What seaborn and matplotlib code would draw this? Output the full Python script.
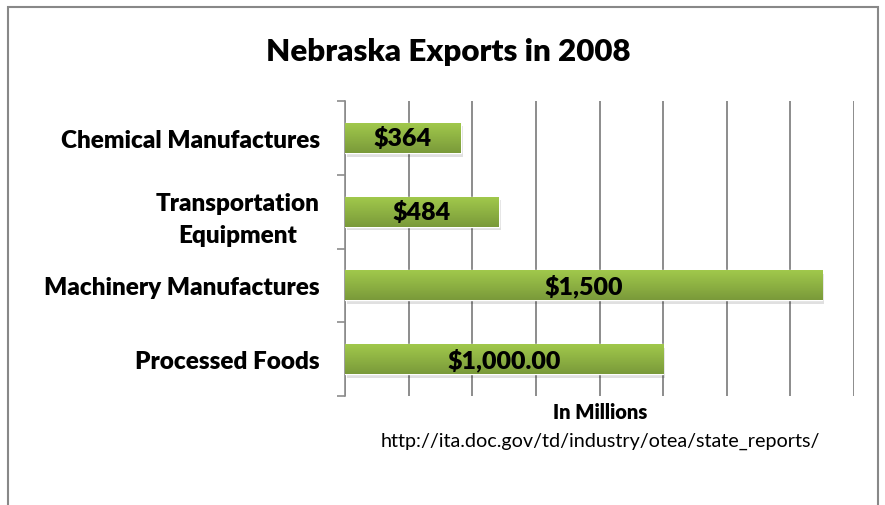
import matplotlib
matplotlib.use("Agg")
import matplotlib.pyplot as plt
import seaborn as sns
import numpy as np
import pandas as pd
from matplotlib.colors import LinearSegmentedColormap
from matplotlib.patches import Rectangle

# data
categories = ["Chemical Manufactures", "Transportation\nEquipment",
              "Machinery Manufactures", "Processed Foods"]
values = [364, 484, 1500, 1000]
value_labels = ["$364", "$484", "$1,500", "$1,000.00"]

df = pd.DataFrame({"category": categories, "value": values})

sns.set_theme(style="white")
plt.rcParams['font.family'] = ['Lato', 'DejaVu Sans']
plt.rcParams['text.color'] = 'black'
plt.rcParams['ytick.labelcolor'] = 'black'

fig = plt.figure(figsize=(8.85, 5.06), dpi=100)
ax = fig.add_axes([345 / 885, 1 - 397 / 506, (854 - 345) / 885, (397 - 102) / 506])

sns.barplot(data=df, x="value", y="category", orient="h", ax=ax,
            color="#8DB545", width=0.41, zorder=3)

# gradient fill + shadow for each bar
green = LinearSegmentedColormap.from_list("g", ["#A2CA4C", "#7A9A3A"])
grad = np.linspace(0, 1, 100).reshape(-1, 1)
for p in list(ax.patches):
    x0, y0 = p.get_x(), p.get_y()
    w, h = p.get_width(), p.get_height()
    shadow = Rectangle((x0 + 6, y0 + 0.05), w, h, color="#000000",
                       alpha=0.12, zorder=2, lw=0)
    ax.add_patch(shadow)
    im = ax.imshow(grad, cmap=green, aspect="auto",
                   extent=(x0, x0 + w, y0 + h, y0), zorder=3.5)
    im.set_clip_path(p)

for i, lab in enumerate(value_labels):
    ax.text(values[i] / 2, i, lab, ha="center", va="center",
            fontsize=18, fontweight="heavy", color="black", zorder=5)

ax.set_xlim(0, 1600)
ax.set_ylim(3.5, -0.5)
ax.set_xticks(np.arange(0, 1601, 200))
ax.set_xticklabels([])
ax.tick_params(axis="x", length=0)
ax.grid(axis="x", color="#8C8C8C", linewidth=1.4, zorder=0)
ax.set_axisbelow(True)

ax.set_yticks(range(len(categories)))
ax.set_yticklabels(categories, fontsize=17.5, fontweight="heavy",
                   multialignment="center", linespacing=1.6, color="black")
ax.set_yticks(np.arange(-0.5, 4.0, 1.0), minor=True)
ax.tick_params(axis="y", which="major", length=0, pad=18)
ax.tick_params(axis="y", which="minor", length=6, width=1.2,
               color="#8C8C8C", direction="out", left=True)

for s in ["top", "right", "bottom"]:
    ax.spines[s].set_visible(False)
ax.spines["left"].set_color("#8C8C8C")
ax.spines["left"].set_linewidth(1.2)
ax.set_xlabel("")
ax.set_ylabel("")

fig.text(448 / 885, 1 - 52 / 506, "Nebraska Exports in 2008", ha="center",
         va="center", fontsize=22.5, fontweight="heavy", color="black")
fig.text(600 / 885, 1 - 413 / 506, "In Millions", ha="center", va="center",
         fontsize=14.5, fontweight="heavy", color="black")
fig.text(600 / 885, 1 - 441 / 506,
         "http://ita.doc.gov/td/industry/otea/state_reports/",
         ha="center", va="center", fontsize=14.2, color="black")

# outer frame
fig.patches.append(Rectangle((8 / 885, -0.05), (878 - 8) / 885, 1.05 - 8 / 506,
                             transform=fig.transFigure, fill=False,
                             edgecolor="#888888", linewidth=1.5))

fig.savefig("out.png", dpi=100)
